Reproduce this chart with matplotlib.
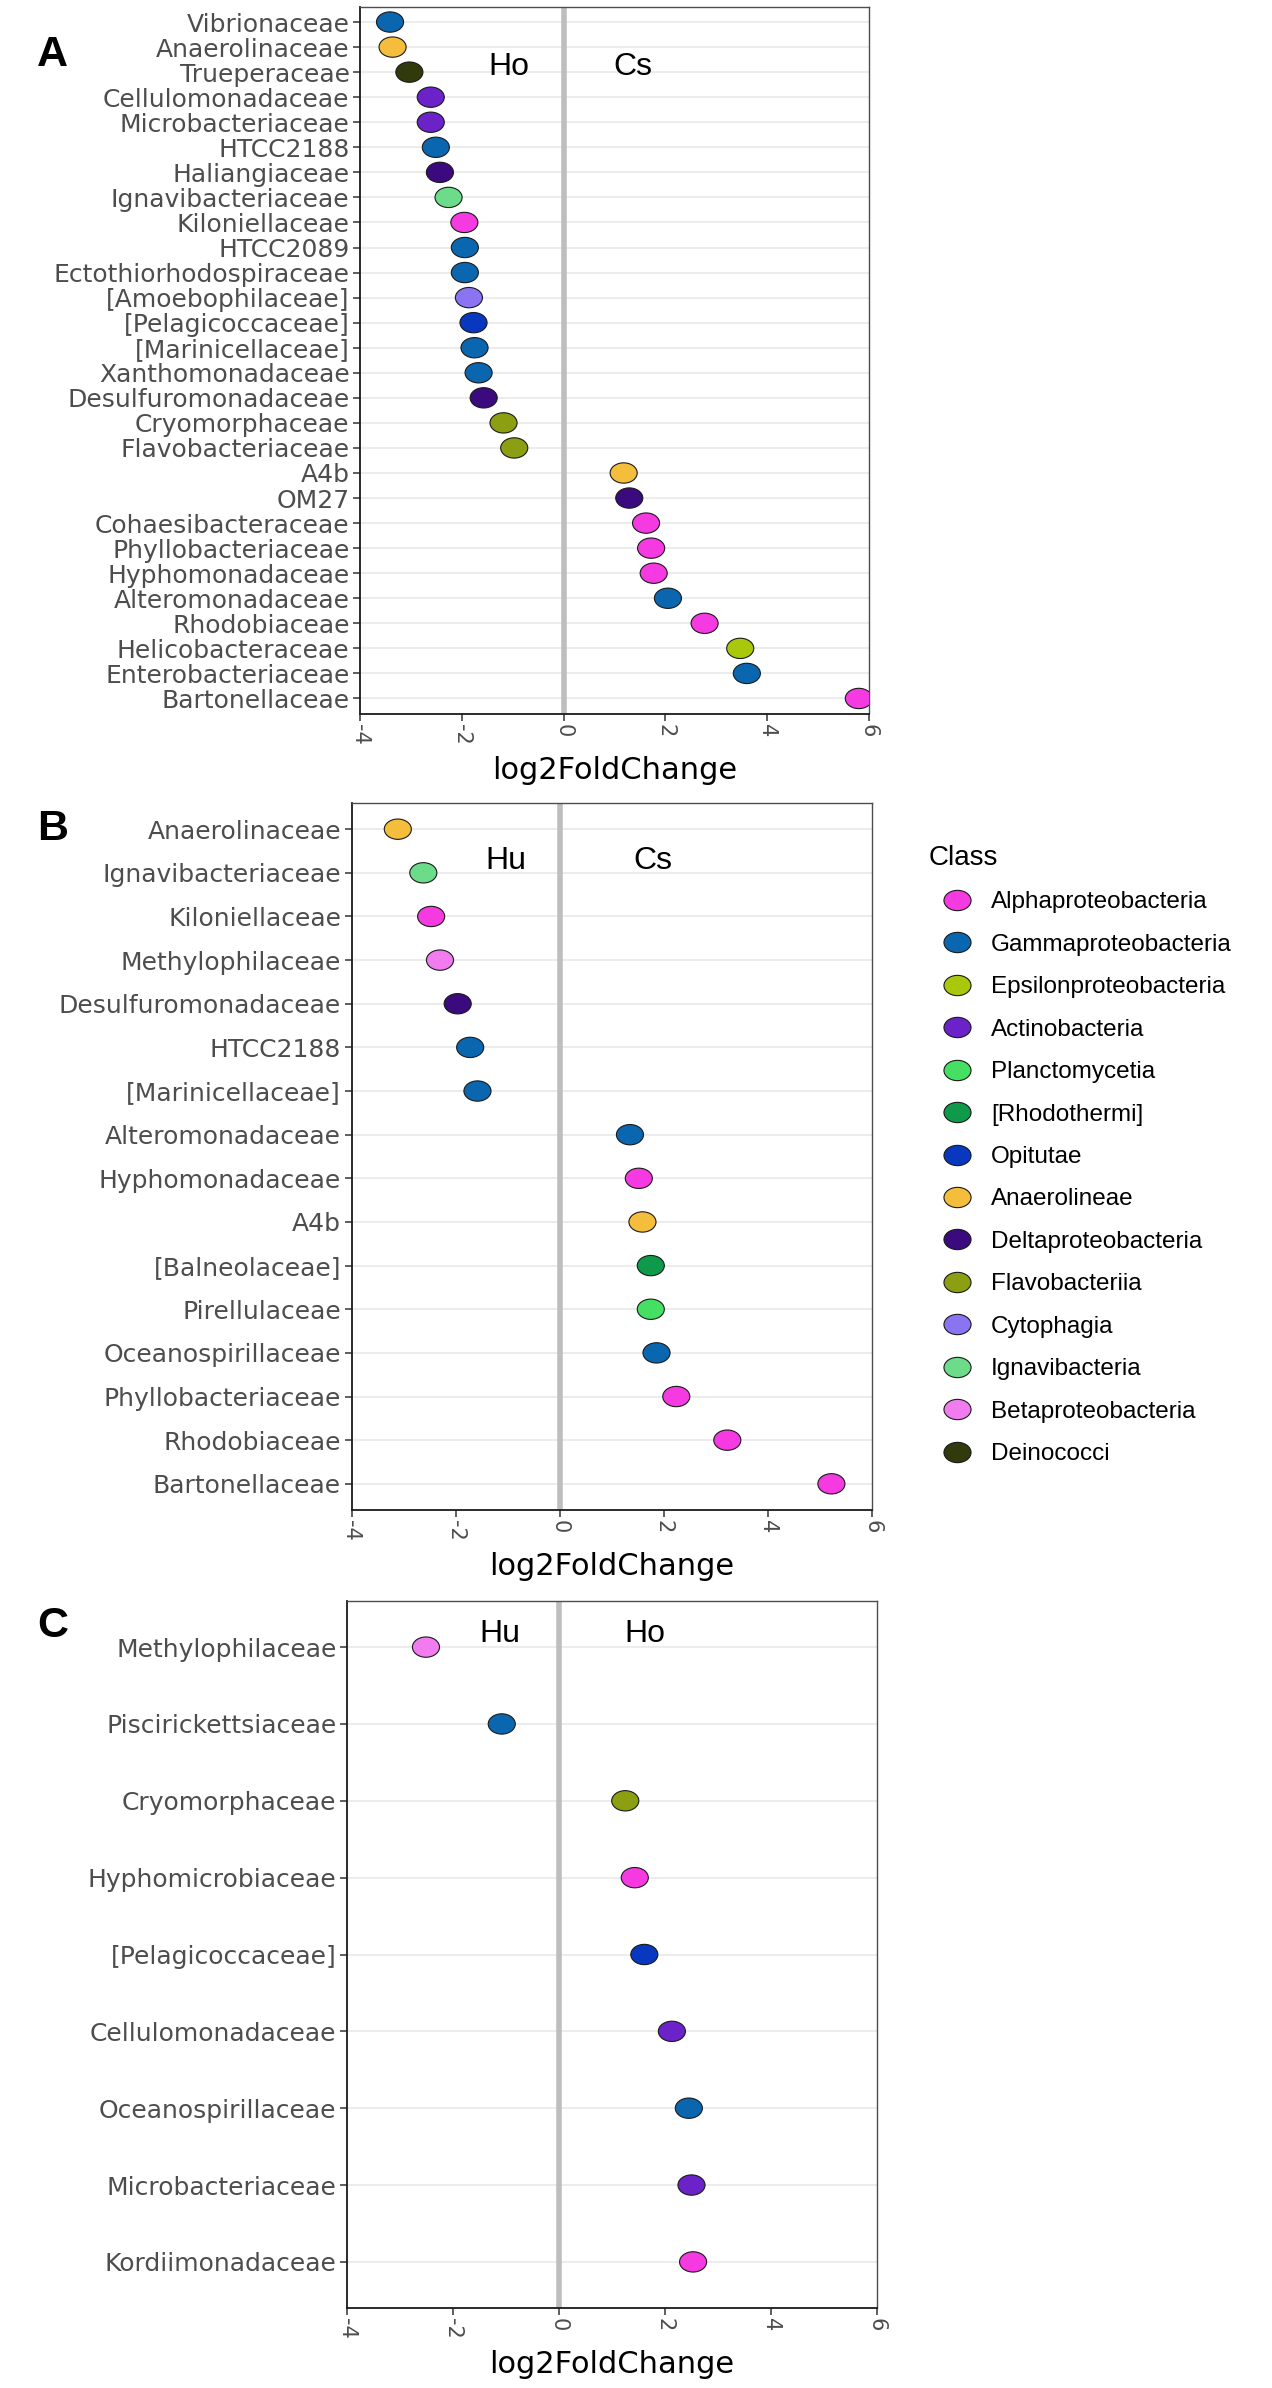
import numpy as np
import matplotlib.pyplot as plt
from matplotlib.path import Path
from matplotlib.lines import Line2D

plt.rcParams['font.family'] = ['DejaVu Sans']
plt.rcParams['axes.unicode_minus'] = False

# legend classes and their fill colours
classes = ['Alphaproteobacteria', 'Gammaproteobacteria', 'Epsilonproteobacteria',
           'Actinobacteria', 'Planctomycetia', '[Rhodothermi]', 'Opitutae',
           'Anaerolineae', 'Deltaproteobacteria', 'Flavobacteriia', 'Cytophagia',
           'Ignavibacteria', 'Betaproteobacteria', 'Deinococci']
class_colors = ['#F43AE0', '#0B66B0', '#A9C80C', '#6B22C8', '#45E063', '#0E9A4A',
                '#0838C0', '#F4BD3C', '#3B0A7E', '#8C9E12', '#8A74F2', '#6CDB8A',
                '#F07CF0', '#313A0C']

# panel A: Ho vs Cs
fam_a = ['Vibrionaceae', 'Anaerolinaceae', 'Trueperaceae', 'Cellulomonadaceae',
         'Microbacteriaceae', 'HTCC2188', 'Haliangiaceae', 'Ignavibacteriaceae',
         'Kiloniellaceae', 'HTCC2089', 'Ectothiorhodospiraceae', '[Amoebophilaceae]',
         '[Pelagicoccaceae]', '[Marinicellaceae]', 'Xanthomonadaceae',
         'Desulfuromonadaceae', 'Cryomorphaceae', 'Flavobacteriaceae', 'A4b', 'OM27',
         'Cohaesibacteraceae', 'Phyllobacteriaceae', 'Hyphomonadaceae',
         'Alteromonadaceae', 'Rhodobiaceae', 'Helicobacteraceae',
         'Enterobacteriaceae', 'Bartonellaceae']
lfc_a = [-3.41, -3.36, -3.03, -2.61, -2.61, -2.51, -2.43, -2.26, -1.95, -1.94,
         -1.94, -1.86, -1.77, -1.75, -1.67, -1.57, -1.18, -0.97, 1.18, 1.29,
         1.62, 1.72, 1.77, 2.05, 2.77, 3.47, 3.60, 5.80]
cls_a = ['Gammaproteobacteria', 'Anaerolineae', 'Deinococci', 'Actinobacteria',
         'Actinobacteria', 'Gammaproteobacteria', 'Deltaproteobacteria',
         'Ignavibacteria', 'Alphaproteobacteria', 'Gammaproteobacteria',
         'Gammaproteobacteria', 'Cytophagia', 'Opitutae', 'Gammaproteobacteria',
         'Gammaproteobacteria', 'Deltaproteobacteria', 'Flavobacteriia',
         'Flavobacteriia', 'Anaerolineae', 'Deltaproteobacteria',
         'Alphaproteobacteria', 'Alphaproteobacteria', 'Alphaproteobacteria',
         'Gammaproteobacteria', 'Alphaproteobacteria', 'Epsilonproteobacteria',
         'Gammaproteobacteria', 'Alphaproteobacteria']

# panel B: Hu vs Cs
fam_b = ['Anaerolinaceae', 'Ignavibacteriaceae', 'Kiloniellaceae', 'Methylophilaceae',
         'Desulfuromonadaceae', 'HTCC2188', '[Marinicellaceae]', 'Alteromonadaceae',
         'Hyphomonadaceae', 'A4b', '[Balneolaceae]', 'Pirellulaceae',
         'Oceanospirillaceae', 'Phyllobacteriaceae', 'Rhodobiaceae', 'Bartonellaceae']
lfc_b = [-3.11, -2.62, -2.47, -2.30, -1.96, -1.72, -1.58, 1.35, 1.52, 1.59, 1.75,
         1.75, 1.86, 2.24, 3.22, 5.22]
cls_b = ['Anaerolineae', 'Ignavibacteria', 'Alphaproteobacteria', 'Betaproteobacteria',
         'Deltaproteobacteria', 'Gammaproteobacteria', 'Gammaproteobacteria',
         'Gammaproteobacteria', 'Alphaproteobacteria', 'Anaerolineae', '[Rhodothermi]',
         'Planctomycetia', 'Gammaproteobacteria', 'Alphaproteobacteria',
         'Alphaproteobacteria', 'Alphaproteobacteria']

# panel C: Hu vs Ho
fam_c = ['Methylophilaceae', 'Piscirickettsiaceae', 'Cryomorphaceae',
         'Hyphomicrobiaceae', '[Pelagicoccaceae]', 'Cellulomonadaceae',
         'Oceanospirillaceae', 'Microbacteriaceae', 'Kordiimonadaceae']
lfc_c = [-2.51, -1.08, 1.25, 1.43, 1.61, 2.13, 2.45, 2.50, 2.53]
cls_c = ['Betaproteobacteria', 'Gammaproteobacteria', 'Flavobacteriia',
         'Alphaproteobacteria', 'Opitutae', 'Actinobacteria', 'Gammaproteobacteria',
         'Actinobacteria', 'Alphaproteobacteria']

xticks = [-4, -2, 0, 2, 4, 6]
color_of = dict(zip(classes, class_colors))
arial = ['Liberation Sans', 'DejaVu Sans']

W, H = 1272, 2388
fig = plt.figure(figsize=(W / 100, H / 100), dpi=100)

# slightly flattened dots, as in the original
circ = Path.unit_circle()
ellipse = Path(circ.vertices * np.array([1.0, 0.75]), circ.codes)


def panel(rect, fams, vals, cls, groups, letter, letter_y):
    l, t, r, b = rect
    ax = fig.add_axes([l / W, 1 - b / H, (r - l) / W, (b - t) / H])
    y = np.arange(len(fams))
    ax.axvline(0, color='#BEBEBE', lw=4, zorder=1.5)
    ax.scatter(vals, y, marker=ellipse, s=19.5 ** 2,
               c=[color_of[k] for k in cls], edgecolors='#1a1a1a',
               linewidths=0.8, zorder=3)
    ax.set_xlim(-4, 6)
    ax.set_ylim(len(fams) - 0.4, -0.6)
    ax.set_yticks(y)
    ax.set_yticklabels(fams, fontsize=18, color='#4D4D4D')
    ax.set_xticks(xticks)
    ax.set_xticklabels([str(v) for v in xticks], fontsize=15, color='#4D4D4D',
                       rotation=270)
    ax.tick_params(length=5, width=1.1, color='#333333', pad=2.5)
    ax.grid(axis='y', color='#EBEBEB', lw=1.3)
    ax.set_axisbelow(True)
    for side in ['left', 'bottom']:
        ax.spines[side].set_color('#1a1a1a')
        ax.spines[side].set_linewidth(1.3)
    for side in ['top', 'right']:
        ax.spines[side].set_color('#4D4D4D')
        ax.spines[side].set_linewidth(1.0)
    ax.set_xlabel('log2FoldChange', fontsize=22, labelpad=8)
    for name, gx, gy in groups:
        ax.text(gx, gy, name, fontsize=23, family=arial, ha='center', va='baseline')
    fig.text(37 / W, 1 - letter_y / H, letter, fontsize=31, fontweight='bold',
             family=arial, ha='left', va='baseline')
    return ax


panel((360, 7, 869, 713.5), fam_a, lfc_a, cls_a,
      [('Ho', -1.07, 2.13), ('Cs', 1.36, 2.13)], 'A', 66)
panel((351.5, 803, 872, 1510), fam_b, lfc_b, cls_b,
      [('Hu', -1.03, 0.92), ('Cs', 1.79, 0.92)], 'B', 840)
panel((347, 1601, 877, 2308), fam_c, lfc_c, cls_c,
      [('Hu', -1.11, -0.07), ('Ho', 1.62, -0.07)], 'C', 1637)

handles = [Line2D([], [], ls='none', marker=ellipse, ms=19.5, mfc=c,
                  mec='#1a1a1a', mew=0.8) for c in class_colors]
leg = fig.legend(handles, classes, loc='upper left',
                 bbox_to_anchor=(929 / W, 1 - 845 / H), frameon=False,
                 title='Class', prop={'family': arial, 'size': 17.5},
                 title_fontproperties={'family': arial, 'size': 20},
                 labelspacing=0.84, handlelength=2.3, handletextpad=0.25,
                 borderpad=0, borderaxespad=0, alignment='left')

fig.savefig('out.png', dpi=100)
